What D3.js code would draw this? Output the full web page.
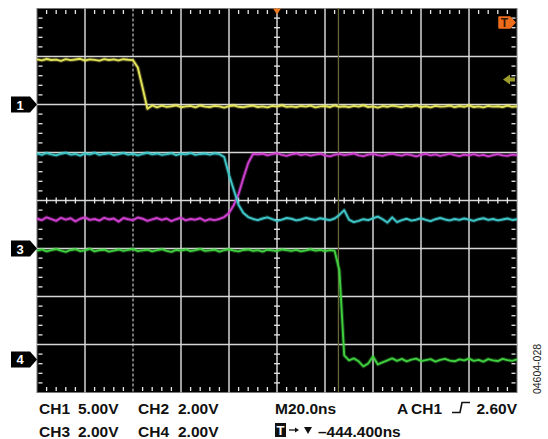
<!DOCTYPE html>
<html><head><meta charset="utf-8">
<script src="https://cdn.jsdelivr.net/npm/d3@7/dist/d3.min.js"></script>
<style>html,body{margin:0;padding:0;background:#fff;} svg{display:block;}</style>
</head><body>
<script>
// ---- Data (time in ns, 20 ns/div, samples every 2 ns) ----
const timeNs = d3.range(0, 201, 2);
// CH1 (yellow) volts
const ch1 = [4.70,4.60,4.74,4.63,4.68,4.55,4.72,4.62,4.69,4.76,4.58,4.70,4.65,4.57,4.73,4.64,4.70,4.59,4.72,4.66,4.62,
 3.85,1.75,-0.45,-0.10,
 -0.30,-0.12,-0.25,-0.18,-0.08,-0.28,-0.20,-0.15,-0.30,-0.10,
 -0.22,-0.26,-0.14,-0.20,-0.32,-0.16,-0.10,-0.24,-0.28,-0.18,
 -0.12,-0.26,-0.20,-0.30,-0.14,-0.22,-0.08,-0.25,-0.19,-0.28,
 -0.15,-0.22,-0.12,-0.30,-0.20,-0.16,-0.26,-0.10,-0.24,-0.18,
 -0.28,-0.14,-0.22,-0.08,-0.26,-0.20,-0.32,-0.16,-0.24,-0.12,
 -0.20,-0.28,-0.15,-0.22,-0.10,-0.26,-0.18,-0.30,-0.14,-0.22,
 -0.20,-0.12,-0.28,-0.16,-0.24,-0.10,-0.26,-0.20,-0.30,-0.15,
 -0.22,-0.18,-0.26,-0.12,-0.24,-0.20];
// CH2 (cyan) volts
const ch2 = [3.96,3.90,3.98,3.92,3.88,3.95,3.99,3.91,3.94,3.87,
 3.96,3.92,3.99,3.90,3.94,3.97,3.89,3.93,3.98,3.91,
 3.95,3.88,3.94,3.99,3.92,3.96,3.90,3.93,3.97,3.89,
 3.95,3.92,3.98,3.90,3.94,3.96,3.91,3.97,3.93,
 3.81,3.07,2.44,1.81,1.48,1.31,1.23,
 1.18,1.25,1.30,1.22,1.15,1.20,1.27,1.24,1.17,1.21,1.28,1.23,1.19,1.26,1.22,1.18,1.25,
 1.40,1.60,1.20,1.10,
 1.15,1.22,1.18,1.26,1.33,1.22,1.08,1.30,1.10,1.18,1.24,1.16,1.20,1.26,1.19,1.14,1.22,
 1.27,1.21,1.17,1.23,1.19,1.25,1.20,1.15,1.22,1.26,1.19,1.23,1.17,1.21,1.25,1.19,1.22];
// CH3 (magenta) volts
const ch3 = [1.25,1.18,1.30,1.22,1.15,1.28,1.20,1.26,1.13,1.24,
 1.30,1.19,1.23,1.16,1.28,1.21,1.25,1.12,1.27,1.22,
 1.18,1.29,1.24,1.15,1.21,1.27,1.19,1.25,1.14,1.22,
 1.28,1.17,1.23,1.20,1.26,1.15,1.22,1.18,1.23,
 1.31,1.48,1.81,2.27,2.94,3.56,3.94,
 3.92,3.95,3.88,3.93,3.97,3.90,3.86,3.92,3.96,3.89,
 3.93,3.87,3.91,3.95,3.88,3.84,3.90,3.94,3.89,3.92,
 3.96,3.88,3.85,3.91,3.94,3.89,3.86,3.92,3.95,3.90,
 3.87,3.93,3.89,3.84,3.90,3.94,3.88,3.92,3.86,3.90,
 3.95,3.89,3.85,3.91,3.88,3.93,3.87,3.90,3.84,3.89,
 3.93,3.88,3.86,3.91,3.89];
// CH4 (green) volts
const ch4 = [4.52,4.58,4.50,4.55,4.60,4.53,4.48,4.56,4.59,4.51,
 4.54,4.61,4.50,4.55,4.57,4.49,4.53,4.58,4.52,4.56,
 4.60,4.51,4.54,4.57,4.50,4.55,4.59,4.52,4.48,4.56,
 4.53,4.58,4.51,4.55,4.60,4.52,4.54,4.57,4.49,4.55,
 4.59,4.53,4.50,4.56,4.58,4.52,4.55,4.49,4.57,4.54,
 4.51,4.58,4.55,4.52,4.56,4.50,4.54,4.59,4.53,4.56,
 4.51,4.55,4.53,
 3.70,0.17,-0.04,0.04,-0.08,-0.29,-0.17,0.12,-0.21,-0.12,-0.04,0.04,
 -0.06,0.02,-0.08,-0.01,0.03,-0.07,-0.03,0.01,-0.09,-0.02,
 0.02,-0.05,-0.08,0.00,-0.04,0.03,-0.06,-0.02,-0.09,0.01,
 -0.04,-0.07,0.02,-0.03,-0.06,0.00];

const chNames   = ["CH1","CH2","CH3","CH4"];
const chVPerDiv = [5, 2, 2, 2];
const chGround  = [2, -1, -1, -3.31];   // ground position in divisions from centre
const chMarker  = ["1", null, "3", "4"];
const chColors  = ["#e4e45a", "#3ec6c8", "#cf3fd0", "#3fcf3f"];
const chValues  = [ch1, ch2, ch3, ch4];

const triggerTimeNs = 125.6;       // trigger position
const cursorTimeNs = 40;           // dashed marker line
const infoRow1 = [["CH1",39],["5.00V",78],["CH2",138],["2.00V",178],["M20.0ns",275],["A",397],["CH1",411]];
const infoRow2 = [["CH3",39],["2.00V",78],["CH4",138],["2.00V",178],["\u2013444.400ns",318]];
const trigLevel = "2.60V";
const figId = "04604-028";

// ---- Layout ----
const W = 548, H = 439;
const L = 37, R = 517, T = 8.5, B = 392.5;
const svg = d3.select("body").append("svg").attr("width", W).attr("height", H)
  .style("font-family", "'Liberation Sans', Arial, sans-serif");

const x = d3.scaleLinear().domain([0, 200]).range([L, R]);
const yd = d3.scaleLinear().domain([-4, 4]).range([B, T]);

svg.append("rect").attr("x", L).attr("y", T).attr("width", R - L).attr("height", B - T)
  .attr("fill", "#000").attr("stroke", "#777").attr("stroke-width", 1);

const g = svg.append("g");
const majorX = d3.range(20, 200, 20);
const majorY = d3.range(-3, 4, 1);
g.selectAll(".vx").data(majorX).join("line")
  .attr("x1", d => x(d)).attr("x2", d => x(d)).attr("y1", T).attr("y2", B)
  .attr("stroke", d => d === cursorTimeNs ? "#9a9a9a" : "#d6d6d6")
  .attr("stroke-width", 1.5)
  .attr("stroke-dasharray", d => d === cursorTimeNs ? "3,2" : null);
g.selectAll(".hy").data(majorY).join("line")
  .attr("y1", d => yd(d)).attr("y2", d => yd(d)).attr("x1", L).attr("x2", R)
  .attr("stroke", "#d6d6d6").attr("stroke-width", 1.5);

// minor ticks
const minorX = d3.range(0, 201, 4).filter(d => d % 20 !== 0);
const minorY = d3.range(-4, 4.01, 0.2).map(d => Math.round(d * 10) / 10).filter(d => Math.abs(d - Math.round(d)) > 0.01);
const tk = "#e8e8e8";
minorX.forEach(d => {
  g.append("line").attr("x1", x(d)).attr("x2", x(d)).attr("y1", T + 1.5).attr("y2", T + 5.5).attr("stroke", tk).attr("stroke-width", 1.3);
  g.append("line").attr("x1", x(d)).attr("x2", x(d)).attr("y1", B - 5.5).attr("y2", B - 1.5).attr("stroke", tk).attr("stroke-width", 1.3);
  g.append("line").attr("x1", x(d)).attr("x2", x(d)).attr("y1", yd(0) - 3).attr("y2", yd(0) + 3).attr("stroke", tk).attr("stroke-width", 1.3);
});
minorY.forEach(d => {
  g.append("line").attr("y1", yd(d)).attr("y2", yd(d)).attr("x1", L + 1.5).attr("x2", L + 5.5).attr("stroke", tk).attr("stroke-width", 1.3);
  g.append("line").attr("y1", yd(d)).attr("y2", yd(d)).attr("x1", R - 5.5).attr("x2", R - 1.5).attr("stroke", tk).attr("stroke-width", 1.3);
  g.append("line").attr("y1", yd(d)).attr("y2", yd(d)).attr("x1", x(100) - 3).attr("x2", x(100) + 3).attr("stroke", tk).attr("stroke-width", 1.3);
});

// trigger position line
g.append("line").attr("x1", x(triggerTimeNs)).attr("x2", x(triggerTimeNs)).attr("y1", T).attr("y2", B)
  .attr("stroke", "#66663a").attr("stroke-width", 1.3);

// traces
const traces = svg.append("g");
[2, 1, 0, 3].forEach(i => {
  const line = d3.line()
    .x((d, k) => x(timeNs[k]))
    .y(d => yd(chGround[i] + d / chVPerDiv[i]));
  traces.append("path").datum(chValues[i]).attr("d", line)
    .attr("fill", "none").attr("stroke", chColors[i]).attr("stroke-width", 4).attr("opacity", 0.3)
    .attr("stroke-linejoin", "round");
  traces.append("path").datum(chValues[i]).attr("d", line)
    .attr("fill", "none").attr("stroke", chColors[i]).attr("stroke-width", 1.9)
    .attr("stroke-linejoin", "round");
});

// ground markers
chMarker.forEach((m, i) => {
  if (!m) return;
  const cy = yd(chGround[i]);
  svg.append("path")
    .attr("d", `M11,${cy - 8}L30,${cy - 8}L37,${cy}L30,${cy + 8}L11,${cy + 8}Z`)
    .attr("fill", "#000");
  svg.append("text").attr("x", 20).attr("y", cy + 5).attr("text-anchor", "middle")
    .attr("fill", "#fff").attr("font-weight", "bold").attr("font-size", 13).text(m);
});

// trigger markers (orange)
const tx = x(100);
svg.append("path").attr("d", `M${tx - 4},${T}L${tx + 4},${T}L${tx},${T + 6}Z`).attr("fill", "#f07a20");
svg.append("path").attr("d", "M499,17L510,17L515,22.5L510,28L499,28Z").attr("fill", "#ee6d1c")
  .attr("stroke", "#ee6d1c").attr("stroke-linejoin", "round").attr("stroke-width", 1.5);
svg.append("text").attr("x", 504.5).attr("y", 27).attr("text-anchor", "middle").attr("font-weight", "bold")
  .attr("font-size", 12).attr("fill", "#3a1a00").text("T");
// trigger level arrow (olive)
const ty = yd(chGround[0] + 2.6 / chVPerDiv[0]);
svg.append("path").attr("d", `M503,${ty}L510,${ty - 5}L510,${ty - 2}L515,${ty - 2}L515,${ty + 2}L510,${ty + 2}L510,${ty + 5}Z`)
  .attr("fill", "#9c9c2c");

// info text
const tg = svg.append("g").attr("font-weight", "bold").attr("font-size", 15.5).attr("fill", "#111");
infoRow1.forEach(([t, px]) => tg.append("text").attr("x", px).attr("y", 414).text(t));
infoRow2.forEach(([t, px]) => tg.append("text").attr("x", px).attr("y", 437).text(t));
tg.append("text").attr("x", 517).attr("y", 414).attr("text-anchor", "end").text(trigLevel);
// edge symbol
svg.append("path").attr("d", "M452,412.5L460,412.5L462,402.5L470,402.5")
  .attr("fill", "none").attr("stroke", "#111").attr("stroke-width", 1.6);
// T box, arrow, down triangle
svg.append("rect").attr("x", 275).attr("y", 423).attr("width", 11).attr("height", 14).attr("fill", "#111");
svg.append("text").attr("x", 280.5).attr("y", 435).attr("text-anchor", "middle").attr("fill", "#fff")
  .attr("font-weight", "bold").attr("font-size", 13).text("T");
svg.append("line").attr("x1", 289).attr("x2", 296).attr("y1", 430).attr("y2", 430).attr("stroke", "#111").attr("stroke-width", 1.3);
svg.append("path").attr("d", "M295,427.5L299,430L295,432.5Z").attr("fill", "#111");
svg.append("path").attr("d", "M304,427L312,427L308,434Z").attr("fill", "#111");

// figure id
svg.append("text").attr("transform", "translate(541,369) rotate(-90)").attr("text-anchor", "middle")
  .attr("font-size", 10.5).attr("fill", "#222").text(figId);
</script>
</body></html>
